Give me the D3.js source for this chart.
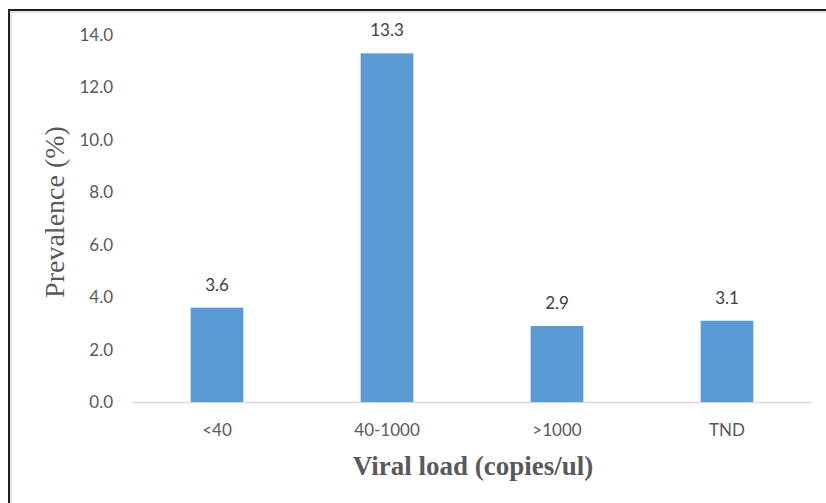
<!DOCTYPE html>
<html><head><meta charset="utf-8">
<script src="https://cdn.jsdelivr.net/npm/d3@7"></script>
<style>body{margin:0;background:#fff}svg{display:block}</style>
</head><body><svg id="c" width="826" height="503"></svg>
<script>
const categories = ["<40", "40-1000", ">1000", "TND"];
const values = [3.6, 13.3, 2.9, 3.1];
const yTicks = [0, 2, 4, 6, 8, 10, 12, 14];

const svg = d3.select("#c");
const W = 826, H = 503;
// frame
svg.append("path").attr("d", `M9,${H} V10 H${W}`).attr("fill","none").attr("stroke","#222").attr("stroke-width",2);
svg.append("path").attr("d", `M11,${H} V12 H${W}`).attr("fill","none").attr("stroke","#ccc").attr("stroke-width",1);

const x = d3.scaleBand().domain(categories).range([132, 812]).paddingInner(0.69).paddingOuter(0.345);
const y = d3.scaleLinear().domain([0, 14]).range([402, 35]);

const tickFont = "Lato, 'Open Sans', sans-serif";
// y axis
const yAxis = svg.append("g").attr("transform","translate(132,0)")
  .call(d3.axisLeft(y).tickValues(yTicks).tickFormat(d3.format(".1f")).tickSize(0).tickPadding(19));
yAxis.select(".domain").remove();
yAxis.selectAll("text").attr("fill","#595959").style("font-family",tickFont).style("font-size","17px");

// baseline
svg.append("line").attr("x1",132).attr("x2",812).attr("y1",y(0)+0.5).attr("y2",y(0)+0.5).attr("stroke","#d9d9d9").attr("stroke-width",1.5);

// bars
svg.selectAll("rect.bar").data(values).join("rect").attr("class","bar")
  .attr("x",(d,i)=>x(categories[i])).attr("width",x.bandwidth())
  .attr("y",d=>y(d)).attr("height",d=>y(0)-y(d)).attr("fill","#5B9BD5");

// value labels
svg.selectAll("text.val").data(values).join("text").attr("class","val")
  .attr("x",(d,i)=>x(categories[i])+x.bandwidth()/2).attr("y",d=>y(d)-17)
  .attr("text-anchor","middle").attr("fill","#404040")
  .style("font-family",tickFont).style("font-size","17px").text(d=>d.toFixed(1));

// x axis
const xAxis = svg.append("g").attr("transform",`translate(0,${y(0)})`)
  .call(d3.axisBottom(x).tickSize(0).tickPadding(22));
xAxis.select(".domain").remove();
xAxis.selectAll("text").attr("fill","#595959").style("font-family",tickFont).style("font-size","17px");

// titles
svg.append("text").attr("transform","translate(64,212) rotate(-90)").attr("text-anchor","middle")
  .attr("fill","#595959").style("font-family","'Liberation Serif', 'Times New Roman', serif").style("font-size","28px")
  .text("Prevalence  (%)");
svg.append("text").attr("x",473).attr("y",475).attr("text-anchor","middle")
  .attr("fill","#595959").style("font-family","'Liberation Serif', 'Times New Roman', serif").style("font-size","27px").style("font-weight","bold")
  .text("Viral load (copies/ul)");
</script></body></html>
